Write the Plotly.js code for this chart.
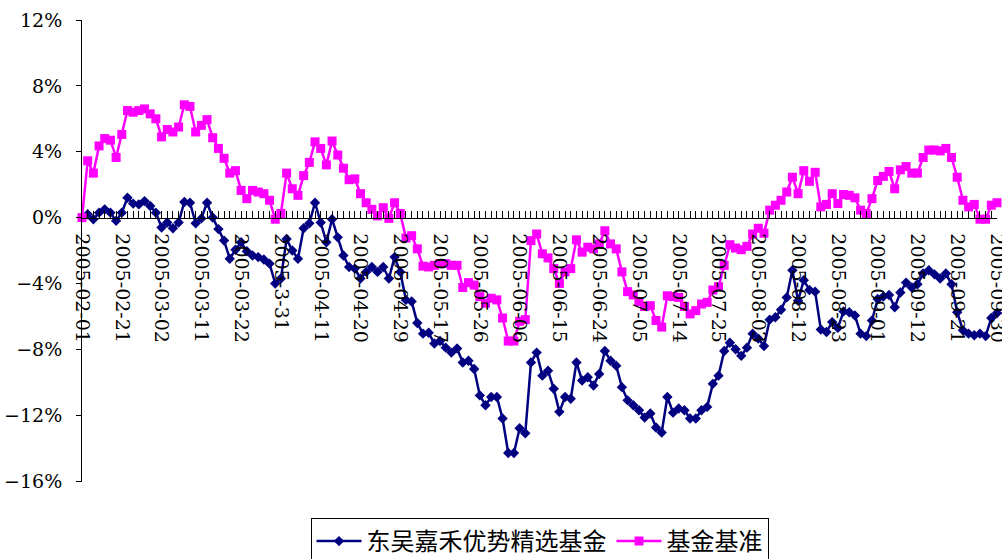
<!DOCTYPE html>
<html>
<head>
<meta charset="utf-8">
<script src="https://cdn.plot.ly/plotly-3.0.1.min.js"></script>
<style>html,body{margin:0;padding:0;background:#fff;}#chart{width:1002px;height:559px;}</style>
</head>
<body>
<div id="chart"></div>
<script>
// Tick labels shown every 7 trading days
const tickLabels = ["2005-02-01","2005-02-21","2005-03-02","2005-03-11","2005-03-22","2005-3-31",
  "2005-04-11","2005-04-20","2005-04-29","2005-05-17","2005-05-26","2005-06-06","2005-06-15",
  "2005-06-24","2005-07-05","2005-07-14","2005-07-25","2005-08-03","2005-08-12","2005-08-23",
  "2005-09-01","2005-09-12","2005-09-21","2005-09-30"];
const labelStep = 7;

const seriesNames = ["东吴嘉禾优势精选基金", "基金基准"];

// 东吴嘉禾优势精选基金 cumulative return (%)
const fundValues = [
  0, 0.2, -0.1, 0.3, 0.5, 0.3, -0.2, 0.3, 1.2, 0.85,
  0.8, 1.0, 0.7, 0.3, -0.6, -0.3, -0.65, -0.3, 0.95, 0.9,
  -0.35, -0.05, 0.9, 0.0, -0.7, -1.4, -2.5, -1.95, -1.5, -2.05,
  -2.3, -2.4, -2.55, -2.8, -4.0, -3.7, -1.3, -2.0, -2.5, -0.65,
  -0.35, 0.9, -0.3, -1.5, -0.1, -1.2, -2.3, -3.0, -3.1, -3.7,
  -3.3, -3.0, -3.3, -3.0, -3.7, -2.4, -3.3, -5.0, -5.1, -6.4,
  -7.05, -7.0, -7.65, -7.5, -7.9, -8.2, -7.95, -8.8, -8.7, -9.2,
  -10.8, -11.4, -10.9, -10.9, -12.2, -14.3, -14.3, -12.8, -13.1, -8.8,
  -8.2, -9.6, -9.3, -10.4, -11.8, -10.9, -11.0, -8.8, -9.9, -9.7,
  -10.2, -9.5, -8.1, -8.7, -9.0, -10.3, -11.1, -11.4, -11.7, -12.15,
  -11.9, -12.75, -13.05, -10.9, -11.85, -11.6, -11.7, -12.2, -12.2, -11.7,
  -11.5, -10.1, -9.6, -8.1, -7.6, -8.0, -8.4, -7.9, -7.05, -7.35,
  -7.8, -6.2, -6.05, -5.6, -4.85, -3.2, -5.05, -3.8, -4.4, -4.5,
  -6.8, -6.95, -6.35, -6.7, -5.7, -5.75, -5.95, -7.05, -7.2, -6.25,
  -4.95, -4.8, -4.7, -5.45, -4.55, -3.95, -4.25, -4.05, -3.4, -3.2,
  -3.45, -3.7, -3.4, -4.05, -5.75, -6.85, -7.05, -7.15, -7.05, -7.2,
  -6.1, -5.8
];

// 基金基准 cumulative return (%)
const benchmarkValues = [
  0, 3.45, 2.7, 4.35, 4.8, 4.7, 3.65, 5.05, 6.5, 6.4,
  6.5, 6.6, 6.3, 6.0, 4.9, 5.35, 5.2, 5.5, 6.85, 6.75,
  5.2, 5.6, 5.95, 4.85, 4.2, 3.6, 2.7, 2.85, 1.65, 1.15,
  1.65, 1.55, 1.45, 1.05, -0.1, 0.25, 2.7, 1.75, 1.35, 2.55,
  3.35, 4.6, 4.2, 3.2, 4.65, 3.8, 3.0, 2.3, 2.35, 1.45,
  0.9, 0.5, 0.1, 0.6, -0.05, 0.9, 0.25, -1.25, -1.1, -1.9,
  -2.95, -3.0, -2.9, -2.8, -2.8, -2.9, -2.9, -4.25, -3.95, -4.1,
  -4.8, -5.2, -4.9, -5.0, -6.1, -7.5, -7.5, -6.3, -6.2, -1.4,
  -1.0, -2.2, -2.45, -3.1, -4.0, -3.3, -3.1, -1.35, -2.1, -1.8,
  -1.9, -1.6, -0.8, -1.6, -1.9, -3.3, -4.5, -4.7, -5.1, -5.4,
  -5.35, -6.25, -6.65, -4.75, -4.8, -4.85, -5.4, -5.85, -5.65, -5.25,
  -5.15, -4.4, -4.2, -2.9, -1.65, -1.85, -1.95, -1.75, -1.0, -0.65,
  -0.95, 0.45, 0.75, 1.05, 1.55, 2.45, 1.45, 2.85, 2.2, 2.75,
  0.65, 0.8, 1.45, 0.85, 1.4, 1.35, 1.2, 0.45, 0.25, 1.15,
  2.25, 2.5, 2.8, 1.75, 2.9, 3.1, 2.7, 2.7, 3.65, 4.1,
  4.1, 4.05, 4.2, 3.65, 2.45, 1.05, 0.65, 0.8, -0.1, -0.1,
  0.75, 0.9
];

const n = fundValues.length;
const xs = fundValues.map((_, i) => i);
const labelVals = tickLabels.map((_, k) => k * labelStep);

const yMin = -16, yMax = 12;
const xRange = [-0.0001, n - 1 + 0.0001];
const zeroPos = (0 - yMin) / (yMax - yMin);
const serif = "DejaVu Serif";
const clear = "rgba(0,0,0,0)";

const traces = [
  {
    x: xs, y: fundValues, name: seriesNames[0], type: "scatter", mode: "lines+markers",
    xaxis: "x", yaxis: "y",
    line: {color: "#000080", width: 2.5},
    marker: {symbol: "diamond", size: 8, color: "#000080"},
    cliponaxis: false
  },
  {
    x: xs, y: benchmarkValues, name: seriesNames[1], type: "scatter", mode: "lines+markers",
    xaxis: "x2", yaxis: "y2",
    line: {color: "#FF00FF", width: 2.5},
    marker: {symbol: "square", size: 9, color: "#FF00FF"},
    cliponaxis: false
  }
];

const layout = {
  width: 1002, height: 559,
  margin: {l: 82, r: 5, t: 20, b: 78, pad: 0},
  paper_bgcolor: "#ffffff", plot_bgcolor: "#ffffff",
  font: {family: serif, color: "#000000", size: 19},
  showlegend: true,
  xaxis: {
    range: xRange, anchor: "free", position: zeroPos,
    showline: true, linecolor: "#000", linewidth: 1,
    ticks: "outside", ticklen: 11, tickcolor: clear,
    tickmode: "array", tickvals: labelVals, ticktext: tickLabels,
    tickangle: 90, ticklabeloverflow: "allow",
    tickfont: {family: serif, size: 19, color: "#000000"},
    showgrid: false, zeroline: false, fixedrange: true
  },
  xaxis2: {
    range: xRange, overlaying: "x", anchor: "free", position: zeroPos,
    showline: false, ticks: "inside", ticklen: 7, tickwidth: 1, tickcolor: "#000",
    tickmode: "array", tickvals: xs, showticklabels: false,
    showgrid: false, zeroline: false, fixedrange: true
  },
  yaxis: {
    range: [yMin, yMax], tick0: 0, dtick: 4, ticksuffix: "%",
    showline: true, linecolor: "#000", linewidth: 1,
    ticks: "outside", ticklen: 15, tickcolor: clear,
    tickfont: {family: serif, size: 19, color: "#000000"},
    showgrid: false, zeroline: false, fixedrange: true
  },
  yaxis2: {
    range: [yMin, yMax], tick0: 0, dtick: 4, overlaying: "y", anchor: "free", position: 0, side: "left",
    showline: false, ticks: "outside", ticklen: 6, tickcolor: "#000", showticklabels: false,
    showgrid: false, zeroline: false, fixedrange: true
  },
  legend: {
    orientation: "h", x: 0.5, xanchor: "center",
    yref: "container", y: 1 - 518 / 559, yanchor: "top",
    bordercolor: "#000", borderwidth: 1, bgcolor: "#fff",
    font: {family: "Noto Sans CJK SC", size: 24, color: "#000000"},
    itemwidth: 45
  }
};

Plotly.newPlot("chart", traces, layout, {displayModeBar: false, staticPlot: true});
</script>
</body>
</html>
